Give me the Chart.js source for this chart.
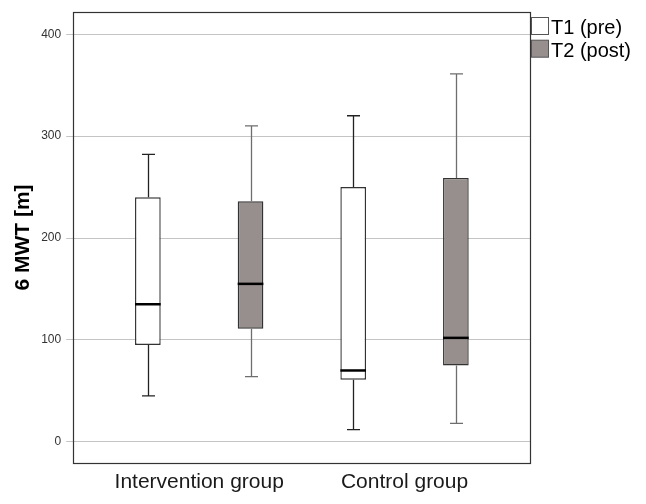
<!DOCTYPE html>
<html>
<head>
<meta charset="utf-8">
<script src="https://cdn.jsdelivr.net/npm/chart.js@4/dist/chart.umd.min.js"></script>
<style>
  html, body { margin: 0; padding: 0; background: #fff; }
  #wrap { width: 646px; height: 504px; position: relative; }
</style>
</head>
<body>
<div id="wrap"><canvas id="chart"></canvas></div>
<script>
// groups on the x axis, and the two measurement times
const groups = ['Intervention group', 'Control group'];
const seriesNames = ['T1 (pre)', 'T2 (post)'];
// x slot of each box (T1, T2) per group
const t1Pos = [1, 3];
const t2Pos = [2, 4];
const groupPos = [1.5, 3.5];

// box plot stats per group: [min, q1, median, q3, max]
const t1Stats = [
    [45, 95, 135, 240, 282],
    [12, 61, 70, 250, 320]
];
const t2Stats = [
    [64, 111, 155, 236, 310],
    [18, 75, 102, 259, 361]
];

const yTicks = [0, 100, 200, 300, 400];

const FONT = "'Liberation Sans', Arial, Helvetica, sans-serif";
const fillT1 = '#ffffff';
const fillT2 = '#968f8d';

// whiskers, caps, medians, frame and legend
const boxExtras = {
    id: 'boxExtras',
    afterDatasetsDraw(chart) {
        const ctx = chart.ctx;
        const xs = chart.scales.x;
        const ys = chart.scales.y;
        const half = 6.5;
        const draw = (pos, stats, whiskerColor) => {
            stats.forEach((s, i) => {
                const cx = Math.round(xs.getPixelForValue(pos[i])) + 0.5;
                ctx.save();
                ctx.strokeStyle = whiskerColor;
                ctx.lineWidth = 1.3;
                ctx.beginPath();
                ctx.moveTo(cx, ys.getPixelForValue(s[3]));
                ctx.lineTo(cx, ys.getPixelForValue(s[4]));
                ctx.moveTo(cx, ys.getPixelForValue(s[1]));
                ctx.lineTo(cx, ys.getPixelForValue(s[0]));
                ctx.moveTo(cx - half, ys.getPixelForValue(s[4]));
                ctx.lineTo(cx + half, ys.getPixelForValue(s[4]));
                ctx.moveTo(cx - half, ys.getPixelForValue(s[0]));
                ctx.lineTo(cx + half, ys.getPixelForValue(s[0]));
                ctx.stroke();

                const meta = chart.getDatasetMeta(pos === t1Pos ? 0 : 1);
                const bar = meta.data[i];
                ctx.strokeStyle = '#000';
                ctx.lineWidth = 2.5;
                ctx.beginPath();
                const my = ys.getPixelForValue(s[2]);
                ctx.moveTo(bar.x - bar.width / 2, my);
                ctx.lineTo(bar.x + bar.width / 2, my);
                ctx.stroke();
                ctx.restore();
            });
        };
        draw(t1Pos, t1Stats, '#222');
        draw(t2Pos, t2Stats, '#6e6e6e');
    },
    afterDraw(chart) {
        const ctx = chart.ctx;
        const a = chart.chartArea;
        ctx.save();
        ctx.strokeStyle = '#333';
        ctx.lineWidth = 1.2;
        ctx.strokeRect(Math.round(a.left) + 0.5, Math.round(a.top) + 0.5,
            Math.round(a.right - a.left), Math.round(a.bottom - a.top));

        // legend
        const fills = [fillT1, fillT2];
        ctx.font = '20px ' + FONT;
        ctx.textBaseline = 'alphabetic';
        seriesNames.forEach((name, i) => {
            const y = 17 + i * 22.7;
            ctx.fillStyle = fills[i];
            ctx.fillRect(531.5, y + 0.5, 17, 17);
            ctx.strokeStyle = '#555';
            ctx.lineWidth = 1;
            ctx.strokeRect(531.5, y + 0.5, 17, 17);
            ctx.fillStyle = '#000';
            ctx.fillText(name, 551, y + 17);
        });
        ctx.restore();
    }
};

new Chart(document.getElementById('chart'), {
    type: 'bar',
    data: {
        datasets: [
            {
                label: seriesNames[0],
                data: t1Pos.map((p, i) => ({ x: p, y: [t1Stats[i][1], t1Stats[i][3]] })),
                backgroundColor: fillT1,
                borderColor: '#333',
                borderWidth: 1.4,
                borderSkipped: false
            },
            {
                label: seriesNames[1],
                data: t2Pos.map((p, i) => ({ x: p, y: [t2Stats[i][1], t2Stats[i][3]] })),
                backgroundColor: fillT2,
                borderColor: '#333',
                borderWidth: 1.4,
                borderSkipped: false
            }
        ]
    },
    options: {
        responsive: true,
        maintainAspectRatio: false,
        animation: false,
        grouped: false,
        categoryPercentage: 1,
        barPercentage: 0.25,
        layout: { padding: { top: 12, right: 116, bottom: 2, left: 11 } },
        plugins: {
            legend: { display: false },
            tooltip: { enabled: false }
        },
        scales: {
            x: {
                type: 'linear',
                offset: false,
                bounds: 'data',
                min: 0.273,
                max: 4.722,
                afterBuildTicks: (axis) => { axis.ticks = groupPos.map(v => ({ value: v })); },
                grid: { display: false, drawTicks: false, offset: false },
                border: { display: false },
                ticks: {
                    padding: 7,
                    color: '#1a1a1a',
                    font: { family: FONT, size: 21 },
                    callback: (v) => groups[groupPos.indexOf(v)]
                }
            },
            y: {
                min: -20.6,
                max: 421.6,
                afterBuildTicks: (axis) => { axis.ticks = yTicks.map(v => ({ value: v })); },
                grid: { color: '#c4c4c4', lineWidth: 1, tickLength: 7 },
                border: { display: false },
                ticks: {
                    padding: 5,
                    color: '#333',
                    font: { family: FONT, size: 12 }
                },
                title: {
                    display: true,
                    text: '6 MWT [m]',
                    color: '#000',
                    font: { family: FONT, size: 21, weight: 'bold' },
                    padding: { top: 0, bottom: 0 }
                }
            }
        }
    },
    plugins: [boxExtras]
});
</script>
</body>
</html>
